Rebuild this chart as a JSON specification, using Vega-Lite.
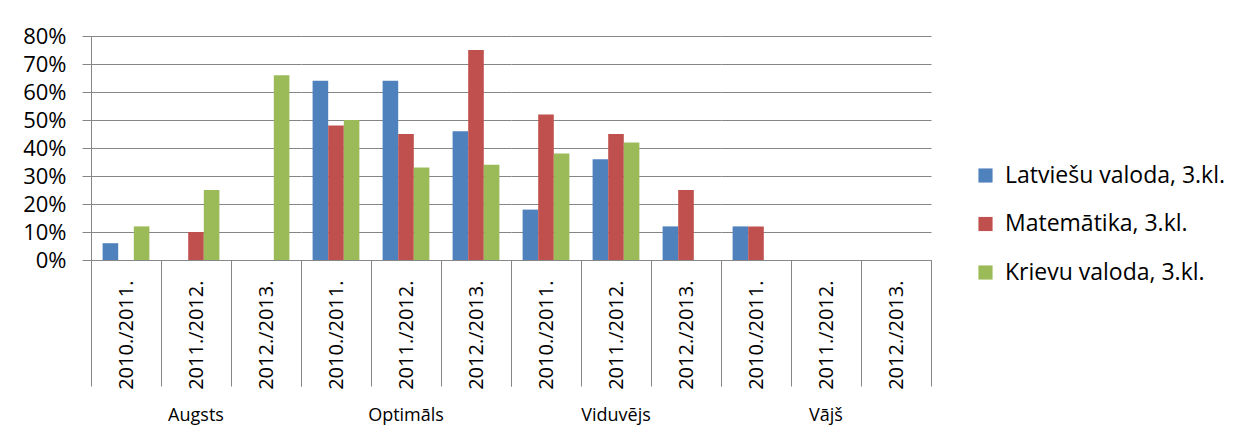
{
  "$schema": "https://vega.github.io/schema/vega-lite/v6.json",
  "background": "white",
  "padding": {"left": 22, "top": 25, "right": 5, "bottom": 5},
  "data": {
    "values": [
      {"level": "Augsts", "year": "2010./2011.", "series": "Latviešu valoda, 3.kl.", "value": 0.06},
      {"level": "Augsts", "year": "2010./2011.", "series": "Matemātika, 3.kl.", "value": 0},
      {"level": "Augsts", "year": "2010./2011.", "series": "Krievu valoda, 3.kl.", "value": 0.12},
      {"level": "Augsts", "year": "2011./2012.", "series": "Latviešu valoda, 3.kl.", "value": 0},
      {"level": "Augsts", "year": "2011./2012.", "series": "Matemātika, 3.kl.", "value": 0.10},
      {"level": "Augsts", "year": "2011./2012.", "series": "Krievu valoda, 3.kl.", "value": 0.25},
      {"level": "Augsts", "year": "2012./2013.", "series": "Latviešu valoda, 3.kl.", "value": 0},
      {"level": "Augsts", "year": "2012./2013.", "series": "Matemātika, 3.kl.", "value": 0},
      {"level": "Augsts", "year": "2012./2013.", "series": "Krievu valoda, 3.kl.", "value": 0.66},
      {"level": "Optimāls", "year": "2010./2011.", "series": "Latviešu valoda, 3.kl.", "value": 0.64},
      {"level": "Optimāls", "year": "2010./2011.", "series": "Matemātika, 3.kl.", "value": 0.48},
      {"level": "Optimāls", "year": "2010./2011.", "series": "Krievu valoda, 3.kl.", "value": 0.50},
      {"level": "Optimāls", "year": "2011./2012.", "series": "Latviešu valoda, 3.kl.", "value": 0.64},
      {"level": "Optimāls", "year": "2011./2012.", "series": "Matemātika, 3.kl.", "value": 0.45},
      {"level": "Optimāls", "year": "2011./2012.", "series": "Krievu valoda, 3.kl.", "value": 0.33},
      {"level": "Optimāls", "year": "2012./2013.", "series": "Latviešu valoda, 3.kl.", "value": 0.46},
      {"level": "Optimāls", "year": "2012./2013.", "series": "Matemātika, 3.kl.", "value": 0.75},
      {"level": "Optimāls", "year": "2012./2013.", "series": "Krievu valoda, 3.kl.", "value": 0.34},
      {"level": "Viduvējs", "year": "2010./2011.", "series": "Latviešu valoda, 3.kl.", "value": 0.18},
      {"level": "Viduvējs", "year": "2010./2011.", "series": "Matemātika, 3.kl.", "value": 0.52},
      {"level": "Viduvējs", "year": "2010./2011.", "series": "Krievu valoda, 3.kl.", "value": 0.38},
      {"level": "Viduvējs", "year": "2011./2012.", "series": "Latviešu valoda, 3.kl.", "value": 0.36},
      {"level": "Viduvējs", "year": "2011./2012.", "series": "Matemātika, 3.kl.", "value": 0.45},
      {"level": "Viduvējs", "year": "2011./2012.", "series": "Krievu valoda, 3.kl.", "value": 0.42},
      {"level": "Viduvējs", "year": "2012./2013.", "series": "Latviešu valoda, 3.kl.", "value": 0.12},
      {"level": "Viduvējs", "year": "2012./2013.", "series": "Matemātika, 3.kl.", "value": 0.25},
      {"level": "Viduvējs", "year": "2012./2013.", "series": "Krievu valoda, 3.kl.", "value": 0},
      {"level": "Vājš", "year": "2010./2011.", "series": "Latviešu valoda, 3.kl.", "value": 0.12},
      {"level": "Vājš", "year": "2010./2011.", "series": "Matemātika, 3.kl.", "value": 0.12},
      {"level": "Vājš", "year": "2010./2011.", "series": "Krievu valoda, 3.kl.", "value": 0},
      {"level": "Vājš", "year": "2011./2012.", "series": "Latviešu valoda, 3.kl.", "value": 0},
      {"level": "Vājš", "year": "2011./2012.", "series": "Matemātika, 3.kl.", "value": 0},
      {"level": "Vājš", "year": "2011./2012.", "series": "Krievu valoda, 3.kl.", "value": 0},
      {"level": "Vājš", "year": "2012./2013.", "series": "Latviešu valoda, 3.kl.", "value": 0},
      {"level": "Vājš", "year": "2012./2013.", "series": "Matemātika, 3.kl.", "value": 0},
      {"level": "Vājš", "year": "2012./2013.", "series": "Krievu valoda, 3.kl.", "value": 0}
    ]
  },
  "facet": {
    "column": {
      "field": "level",
      "type": "nominal",
      "sort": ["Augsts", "Optimāls", "Viduvējs", "Vājš"],
      "header": {
        "title": null,
        "labelOrient": "bottom",
        "labelFont": "Open Sans",
        "labelFontSize": 18,
        "labelColor": "black",
        "labelPadding": 18
      }
    }
  },
  "spacing": 0,
  "spec": {
    "width": 210,
    "height": 224,
    "mark": {"type": "bar"},
    "encoding": {
      "x": {
        "field": "year",
        "type": "nominal",
        "sort": ["2010./2011.", "2011./2012.", "2012./2013."],
        "scale": {"paddingInner": 0, "paddingOuter": 0},
        "axis": {
          "title": null,
          "labelAngle": -90,
          "labelFontSize": 20,
          "tickBand": "extent",
          "tickSize": 126,
          "labelPadding": -106,
          "grid": false
        }
      },
      "xOffset": {
        "field": "series",
        "sort": ["Latviešu valoda, 3.kl.", "Matemātika, 3.kl.", "Krievu valoda, 3.kl."],
        "scale": {"paddingInner": 0, "paddingOuter": 0.744}
      },
      "y": {
        "field": "value",
        "type": "quantitative",
        "scale": {"domain": [0, 0.8], "nice": false},
        "axis": {
          "title": null,
          "format": ".0%",
          "values": [0, 0.1, 0.2, 0.3, 0.4, 0.5, 0.6, 0.7, 0.8],
          "labelFontSize": 22,
          "tickSize": 9,
          "labelPadding": 16,
          "grid": true
        }
      },
      "color": {
        "field": "series",
        "type": "nominal",
        "sort": ["Latviešu valoda, 3.kl.", "Matemātika, 3.kl.", "Krievu valoda, 3.kl."],
        "scale": {
          "domain": ["Latviešu valoda, 3.kl.", "Matemātika, 3.kl.", "Krievu valoda, 3.kl."],
          "range": ["#4F81BD", "#C0504D", "#9BBB59"]
        },
        "legend": {
          "title": null,
          "orient": "none",
          "legendX": 883,
          "legendY": 128,
          "symbolType": "square",
          "symbolSize": 200,
          "symbolStrokeWidth": 0,
          "labelFont": "Open Sans",
          "labelFontSize": 23,
          "labelColor": "black",
          "labelOffset": 8,
          "rowPadding": 24.5,
          "labelLimit": 400,
          "padding": 0
        }
      }
    }
  },
  "config": {
    "font": "Open Sans",
    "view": {"stroke": null},
    "axis": {
      "labelFont": "Open Sans",
      "labelColor": "black",
      "domainColor": "#868686",
      "tickColor": "#868686",
      "gridColor": "#868686",
      "gridWidth": 1,
      "domainWidth": 1,
      "tickWidth": 1
    }
  }
}
